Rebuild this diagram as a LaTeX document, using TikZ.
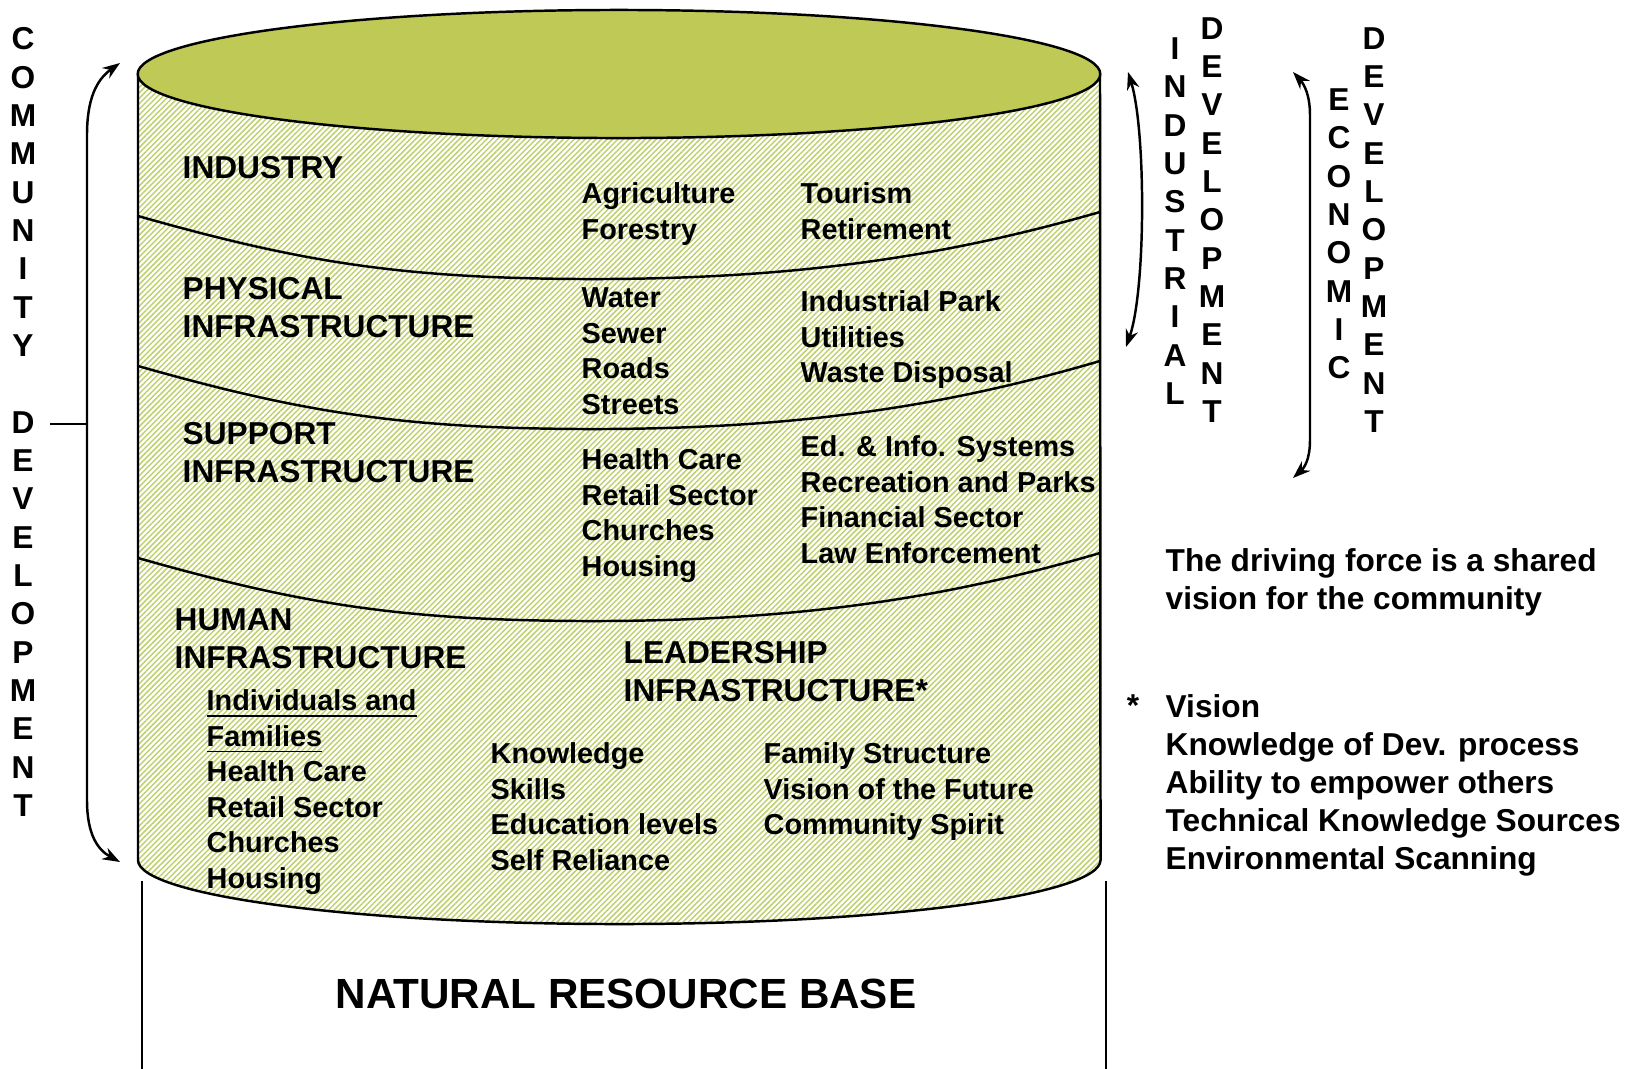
\documentclass[tikz,border=0pt]{standalone}
\usepackage{fontspec}
\setmainfont{Liberation Sans}
\usetikzlibrary{arrows.meta,patterns.meta,positioning}
\definecolor{topgreen}{RGB}{191,201,86}
\definecolor{hatchgreen}{RGB}{190,208,110}

\begin{document}
\begin{tikzpicture}[x=0.01cm,y=-0.01cm,
  heading/.style={anchor=north west,inner sep=0,align=left,font=\bfseries\fontsize{9}{10.8}\selectfont},
  items/.style={anchor=north west,inner sep=0,align=left,font=\bfseries\fontsize{8.2}{10.1}\selectfont},
  letters/.style={inner sep=0,align=center,font=\bfseries\fontsize{9}{10.9}\selectfont},
  dblarrow/.style={{Stealth[length=5pt,width=3.6pt]}-{Stealth[length=5pt,width=3.6pt]},line width=0.7pt}]
\useasboundingbox (0,0) rectangle (1635,1069);

% natural resource base
\draw[line width=0.4pt] (142,881) -- (142,1069);
\draw[line width=0.4pt] (1106,881) -- (1106,1069);
\node[font=\bfseries\fontsize{12}{14}\selectfont] (nrb) at (626,994) {NATURAL RESOURCE BASE};

% cylinder body
\fill[pattern={Lines[angle=45,distance=1.1pt,line width=0.42pt]},pattern color=hatchgreen]
  (138,74) -- (138,860) arc[start angle=180,end angle=360,x radius=4.81cm,y radius=0.64cm] -- (1100,74) -- cycle;
\draw[line width=0.7pt] (138,216) .. controls (300,262) and (400,278) .. (580,279) .. controls (800,280) and (950,255) .. (1100,212);
\draw[line width=0.7pt] (138,366) .. controls (300,412) and (400,428) .. (580,429) .. controls (800,430) and (950,405) .. (1100,361);
\draw[line width=0.7pt] (138,558) .. controls (300,604) and (400,620) .. (580,621) .. controls (800,622) and (950,597) .. (1100,553);
\draw[line width=0.7pt] (138,74) -- (138,860) arc[start angle=180,end angle=360,x radius=4.81cm,y radius=0.64cm] -- (1100,74);
\draw[line width=0.7pt,fill=topgreen] (619,74) ellipse [x radius=4.81cm,y radius=0.64cm];

% layers
\node[heading] (industry) at (182,156) {INDUSTRY};
\node[items] (agri) at (581,182) {Agriculture\\Forestry};
\node[items] (tourism) at (800,182) {Tourism\\Retirement};

\node[heading] (physical) at (182,277) {PHYSICAL\\INFRASTRUCTURE};
\node[items] (water) at (581,287) {Water\\Sewer\\Roads\\Streets};
\node[items] (indpark) at (800,290) {Industrial Park\\Utilities\\Waste Disposal};

\node[heading] (support) at (182,422) {SUPPORT\\INFRASTRUCTURE};
\node[items] (health) at (581,448) {Health Care\\Retail Sector\\Churches\\Housing};
\node[items] (edinfo) at (800,435) {Ed. \& Info. Systems\\Recreation and Parks\\Financial Sector\\Law Enforcement};

\node[heading] (human) at (174,608) {HUMAN\\INFRASTRUCTURE};
\node[items] (families) at (206,689) {\underline{Individuals and}\\\underline{Families}\\Health Care\\Retail Sector\\Churches\\Housing};
\node[heading] (leader) at (623,641) {LEADERSHIP\\INFRASTRUCTURE*};
\node[items] (knowledge) at (490,742) {Knowledge\\Skills\\Education levels\\Self Reliance};
\node[items] (family) at (763,742) {Family Structure\\Vision of the Future\\Community Spirit};

% community development
\node[letters] (community) at (23,422) {C\\O\\M\\M\\U\\N\\I\\T\\Y\\[10.9pt]D\\E\\V\\E\\L\\O\\P\\M\\E\\N\\T};
\coordinate (cdTop) at (120,63);
\coordinate (cdBot) at (120,862);
\coordinate (cdTick) at (50,424);
\coordinate (cdJoin) at (87,424);
\draw[dblarrow] (cdTop) .. controls (96,80) and (87,100) .. (87,135) -- (87,800) .. controls (87,835) and (98,850) .. (cdBot);
\draw[line width=0.4pt] (cdTick) -- (cdJoin);

% industrial development
\node[letters] (industrial) at (1175,221) {I\\N\\D\\U\\S\\T\\R\\I\\A\\L};
\node[letters] (inddev) at (1212,220) {D\\E\\V\\E\\L\\O\\P\\M\\E\\N\\T};
\coordinate (indTop) at (1128,72);
\coordinate (indBot) at (1126,347);
\draw[dblarrow] (indTop) .. controls (1146,130) and (1146,290) .. (indBot);

% economic development
\node[letters] (economic) at (1339,234) {E\\C\\O\\N\\O\\M\\I\\C};
\node[letters] (ecodev) at (1374,230) {D\\E\\V\\E\\L\\O\\P\\M\\E\\N\\T};
\coordinate (ecoTop) at (1293,72);
\coordinate (ecoBot) at (1293,478);
\draw[dblarrow] (ecoTop) .. controls (1304,84) and (1310,95) .. (1310,115) -- (1310,440) .. controls (1310,460) and (1304,468) .. (ecoBot);

% driving force
\node[heading] (driving) at (1165,548) {The driving force is a shared\\vision for the community};
\node[heading] (vision) at (1165,694) {Vision\\Knowledge of Dev. process\\Ability to empower others\\Technical Knowledge Sources\\Environmental Scanning};
\node[heading,anchor=north east] (star) at ([xshift=-0.25cm]vision.north west) {*};
\end{tikzpicture}
\end{document}
